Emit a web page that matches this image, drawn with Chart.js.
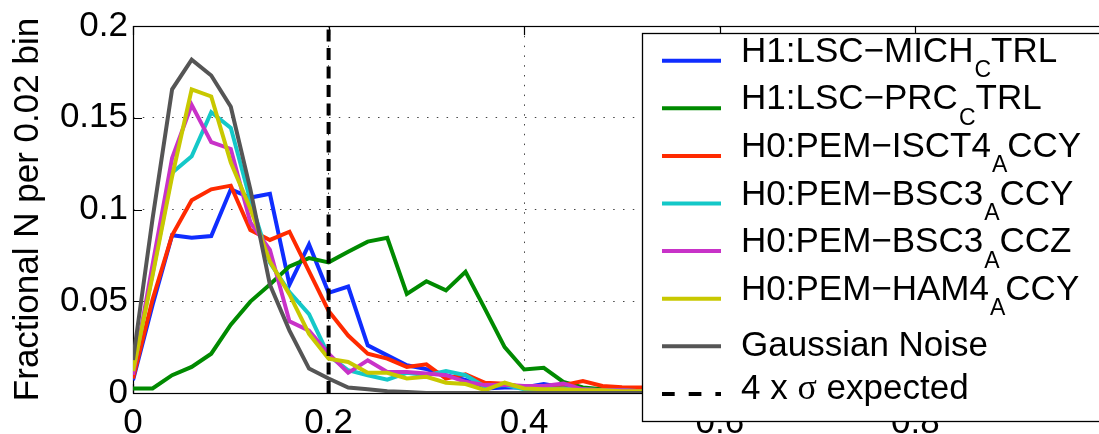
<!DOCTYPE html>
<html>
<head>
<meta charset="utf-8">
<script src="https://cdn.jsdelivr.net/npm/chart.js@4/dist/chart.umd.min.js"></script>
<style>
  html, body { margin: 0; padding: 0; background: #fff; overflow: hidden; }
  #wrap { width: 1099px; height: 434px; overflow: hidden; position: relative; }
  canvas { display: block; }
</style>
</head>
<body>
<div id="wrap"><canvas id="c" width="1120" height="434"></canvas></div>
<script>
// ---- data ----
const xBins = [0.00,0.02,0.04,0.06,0.08,0.10,0.12,0.14,0.16,0.18,0.20,0.22,0.24,0.26,0.28,0.30,0.32,0.34,0.36,0.38,0.40,0.42,0.44,0.46,0.48,0.50,0.52,0.54,0.56,0.58,0.60,0.62,0.64,0.66,0.68,0.70,0.72,0.74,0.76,0.78,0.80,0.82,0.84,0.86,0.88,0.90,0.92,0.94,0.96,0.98,1.00];

const seriesLabels = ["H1:LSC−MICH_CTRL","H1:LSC−PRC_CTRL","H0:PEM−ISCT4_ACCY","H0:PEM−BSC3_ACCY","H0:PEM−BSC3_ACCZ","H0:PEM−HAM4_ACCY","Gaussian Noise"];
const sigmaLabel = "4 x σ expected";
const sigmaX = 0.2;

const michCtrl = [0.007,0.048,0.086,0.0846,0.0855,0.111,0.1065,0.1085,0.059,0.081,0.0546,0.058,0.026,0.0205,0.0151,0.0130,0.0097,0.0072,0.0025,0.003,0.003,0.0049,0.003,0.002,0.002,0.0015,0.001,0.001,0.001,0.001,0.0005,0.0005,0.0005,0.0005,0.0005,0,0,0,0,0,0,0,0,0,0,0,0,0,0,0,0];
const prcCtrl  = [0.0025,0.0025,0.0097,0.0142,0.0214,0.0372,0.0498,0.0591,0.069,0.0735,0.0712,0.077,0.0825,0.0846,0.054,0.0609,0.0559,0.066,0.0457,0.025,0.0128,0.0137,0.0061,0.003,0.002,0.002,0.0015,0.001,0.001,0.001,0.0005,0.0005,0.0005,0.0005,0.0005,0,0,0,0,0,0,0,0,0,0,0,0,0,0,0,0];
const isct4Accy = [0.0079,0.051,0.086,0.105,0.111,0.113,0.0888,0.0834,0.0879,0.0663,0.0447,0.0313,0.0214,0.0187,0.0142,0.0156,0.0079,0.0102,0.0056,0.005,0.003,0.003,0.0043,0.0065,0.0038,0.0031,0.003,0.003,0.002,0.002,0.0015,0.001,0.001,0.001,0.001,0.0005,0.0005,0.0005,0.0005,0,0,0,0,0,0,0,0,0,0,0,0];
const bsc3Accy = [0.012,0.065,0.12,0.129,0.153,0.1445,0.105,0.071,0.055,0.043,0.0205,0.0124,0.0097,0.0073,0.011,0.0097,0.0119,0.0097,0.0034,0.0043,0.002,0.002,0.0025,0.002,0.0015,0.0015,0.001,0.001,0.001,0.0005,0.0005,0.0005,0,0,0,0,0,0,0,0,0,0,0,0,0,0,0,0,0,0,0];
const bsc3Accz = [0.010,0.070,0.128,0.157,0.1367,0.133,0.093,0.078,0.039,0.034,0.0214,0.011,0.0178,0.0115,0.0115,0.0106,0.0097,0.0061,0.0043,0.0045,0.0038,0.0038,0.0052,0.002,0.0015,0.0015,0.001,0.001,0.001,0.0005,0.0005,0.0005,0,0,0,0,0,0,0,0,0,0,0,0,0,0,0,0,0,0,0];
const ham4Accy = [0.012,0.064,0.118,0.1655,0.1616,0.1256,0.1004,0.0717,0.0537,0.0322,0.0187,0.0169,0.011,0.011,0.0079,0.0088,0.0056,0.0049,0.0016,0.0056,0.0025,0.002,0.002,0.0015,0.0015,0.001,0.001,0.001,0.0005,0.0005,0.0005,0,0,0,0,0,0,0,0,0,0,0,0,0,0,0,0,0,0,0,0];
const gaussNoise = [0.018,0.095,0.1655,0.1817,0.173,0.156,0.111,0.059,0.034,0.0133,0.0079,0.003,0.002,0.001,0.0005,0,0,0,0,0,0,0,0,0,0,0,0,0,0,0,0,0,0,0,0,0,0,0,0,0,0,0,0,0,0,0,0,0,0,0,0];

// tick labels visible in the picture (the one at 1 lies outside it)
const xTickLabels = ["0","0.2","0.4","0.6","0.8"];
const yTickLabels = ["0","0.05","0.1","0.15","0.2"];
const yTitle = "Fractional N per 0.02 bin";

// ---- styles ----
const colors = ["#0f2dff","#008a00","#ff2a00","#14c8c8","#c832c8","#c8c800","#555555"];
const FONT = "'Liberation Sans', Arial, Helvetica, sans-serif";
const SERIF = "'Liberation Serif', 'DejaVu Serif', serif";
const allSeries = [michCtrl, prcCtrl, isct4Accy, bsc3Accy, bsc3Accz, ham4Accy, gaussNoise];

const datasets = allSeries.map((vals, i) => ({
  label: seriesLabels[i],
  data: xBins.map((x, k) => ({x: x, y: vals[k]})),
  borderColor: colors[i],
  borderWidth: 4,
  pointRadius: 0,
  tension: 0,
  fill: false,
  order: 20 - i
}));
datasets.push({
  label: sigmaLabel,
  data: [{x: sigmaX, y: 0}, {x: sigmaX, y: 0.2}],
  borderColor: "#000",
  borderWidth: 4,
  borderDash: [12, 6.5],
  pointRadius: 0,
  fill: false,
  order: 1
});

const boxPlugin = {
  id: 'box',
  beforeDatasetsDraw(chart) {
    const {ctx, chartArea: a, scales} = chart;
    ctx.save();
    ctx.strokeStyle = '#000';
    ctx.lineWidth = 1.2;
    ctx.strokeRect(a.left + 0.5, a.top + 0.5, a.right - a.left, a.bottom - a.top);
    ctx.beginPath();
    const tl = 9;
    scales.y.ticks.forEach(t => {
      const p = Math.round(scales.y.getPixelForValue(t.value)) + 0.5;
      ctx.moveTo(a.left, p); ctx.lineTo(a.left + tl, p);
      ctx.moveTo(a.right, p); ctx.lineTo(a.right - tl, p);
    });
    scales.x.ticks.forEach(t => {
      const p = Math.round(scales.x.getPixelForValue(t.value)) + 0.5;
      ctx.moveTo(p, a.bottom); ctx.lineTo(p, a.bottom - tl);
      ctx.moveTo(p, a.top); ctx.lineTo(p, a.top + tl);
    });
    ctx.stroke();
    ctx.restore();
  }
};

function drawRuns(ctx, runs, x, base) {
  runs.forEach(r => {
    ctx.font = r.font;
    ctx.fillText(r.text, x + (r.dx || 0), base + (r.dy || 0));
    x += ctx.measureText(r.text).width + (r.dx || 0);
  });
}

const legendPlugin = {
  id: 'mlegend',
  afterDraw(chart) {
    const ctx = chart.ctx;
    const boxL = 642.5, boxT = 33.5, boxB = 421.5, boxR = 1130;
    ctx.save();
    ctx.fillStyle = '#fff';
    ctx.fillRect(boxL, boxT, boxR - boxL, boxB - boxT);
    ctx.strokeStyle = '#000';
    ctx.lineWidth = 1.3;
    ctx.strokeRect(boxL, boxT, boxR - boxL, boxB - boxT);
    const rowY0 = 60.7, rowStep = 47.6;
    const lineX0 = 662, lineX1 = 721, textX = 741;
    const big = '35px ' + FONT, small = '23px ' + FONT;
    chart.data.datasets.forEach((ds, i) => {
      const ly = rowY0 + i * rowStep;
      ctx.beginPath();
      ctx.strokeStyle = ds.borderColor;
      ctx.lineWidth = 4;
      ctx.setLineDash(ds.borderDash ? [12.7, 14] : []);
      ctx.moveTo(lineX0, ly); ctx.lineTo(lineX1, ly);
      ctx.stroke();
      ctx.setLineDash([]);
      const label = ds.label;
      ctx.fillStyle = '#000';
      ctx.textBaseline = 'alphabetic';
      ctx.textAlign = 'left';
      const us = label.indexOf('_');
      if (us >= 0) {
        drawRuns(ctx, [
          {text: label.slice(0, us), font: big},
          {text: label.charAt(us + 1), font: small, dx: 1, dy: 15.5},
          {text: label.slice(us + 2), font: big}
        ], textX, ly + 1);
      } else if (label.indexOf('σ') >= 0) {
        const k = label.indexOf('σ');
        drawRuns(ctx, [
          {text: label.slice(0, k), font: big},
          {text: 'σ', font: '36px ' + SERIF},
          {text: label.slice(k + 1), font: big}
        ], textX, ly + 5);
      } else {
        drawRuns(ctx, [{text: label, font: big}], textX, ly + 9.5);
      }
    });
    ctx.restore();
  }
};

new Chart(document.getElementById('c'), {
  type: 'line',
  data: { datasets: datasets },
  plugins: [boxPlugin, legendPlugin],
  options: {
    responsive: false,
    animation: false,
    layout: { padding: { top: 22, right: 7, left: 0, bottom: 0 } },
    plugins: { legend: { display: false }, tooltip: { enabled: false } },
    scales: {
      x: {
        type: 'linear', min: 0, max: 1,
        afterFit(s) { s.height = 41; },
        ticks: {
          stepSize: 0.2, autoSkip: false, maxRotation: 0, padding: 9,
          color: '#000', font: { family: FONT, size: 35 },
          callback: (v, i) => (i < xTickLabels.length ? xTickLabels[i] : '')
        },
        grid: { color: '#444', lineWidth: 1, drawTicks: false },
        border: { display: false, dash: [1.5, 8.3] }
      },
      y: {
        min: 0, max: 0.2,
        afterFit(s) { s.width = 133; },
        ticks: {
          stepSize: 0.05, padding: 5,
          color: '#000', font: { family: FONT, size: 35 },
          callback: (v, i) => yTickLabels[i]
        },
        grid: { color: '#444', lineWidth: 1, drawTicks: false },
        border: { display: false, dash: [1.5, 8.3] },
        title: {
          display: true, text: yTitle, color: '#000',
          font: { family: FONT, size: 35 },
          padding: { top: 7, bottom: 0 }
        }
      }
    }
  }
});
</script>
</body>
</html>
